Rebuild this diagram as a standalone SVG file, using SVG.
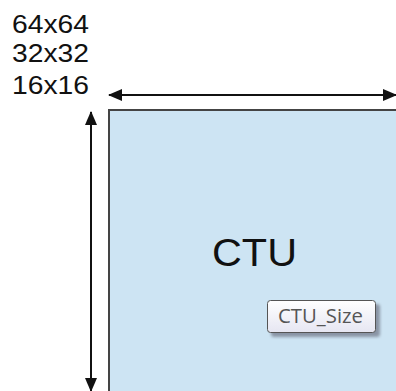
<svg xmlns="http://www.w3.org/2000/svg" width="396" height="391" viewBox="0 0 396 391">
<defs>
<style>
.lbl{font-family:"Liberation Sans",Arial,sans-serif;fill:#111}
.ln{stroke:#111;stroke-width:2;fill:none}
</style>
<marker id="ah" viewBox="0 0 14 12" refX="13" refY="6" markerWidth="14" markerHeight="12" markerUnits="userSpaceOnUse" orient="auto-start-reverse">
<path d="M0,0 L14,6 L0,12 Z" fill="#111"/>
</marker>
<linearGradient id="btn" x1="0" y1="0" x2="0" y2="1">
<stop offset="0" stop-color="#ffffff"/>
<stop offset="1" stop-color="#e6e6f2"/>
</linearGradient>
<filter id="sh" x="-10%" y="-20%" width="130%" height="160%">
<feGaussianBlur stdDeviation="1.5"/>
</filter>
</defs>
<g id="sizes">
<text class="lbl" x="12" y="33" font-size="25" textLength="77" lengthAdjust="spacingAndGlyphs">64x64</text>
<text class="lbl" x="12" y="62" font-size="25" textLength="77" lengthAdjust="spacingAndGlyphs">32x32</text>
<text class="lbl" x="12" y="94" font-size="25" textLength="77" lengthAdjust="spacingAndGlyphs">16x16</text>
</g>
<g id="ctu">
<rect x="109" y="110" width="300" height="300" fill="#cde4f3" stroke="#444" stroke-width="2"/>
<text class="lbl" x="212" y="266" font-size="39" textLength="85" lengthAdjust="spacingAndGlyphs">CTU</text>
</g>
<g id="ctu_size">
<rect x="271" y="304" width="109" height="33" rx="3" fill="#556" opacity="0.55" filter="url(#sh)"/>
<rect x="267.5" y="300.5" width="108" height="32" rx="3" fill="url(#btn)" stroke="#555" stroke-width="1"/>
<text x="278" y="323" font-family="'Open Sans','Noto Sans',sans-serif" font-size="20" fill="#555" textLength="85" lengthAdjust="spacingAndGlyphs">CTU_Size</text>
</g>
<g id="connectors">
<line class="ln" x1="109" y1="95" x2="396" y2="95" marker-start="url(#ah)" marker-end="url(#ah)"/>
<line class="ln" x1="91" y1="112" x2="91" y2="391" marker-start="url(#ah)" marker-end="url(#ah)"/>
</g>
</svg>
